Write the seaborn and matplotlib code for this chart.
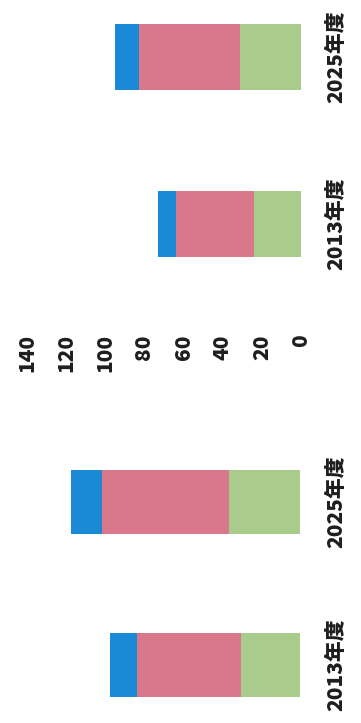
import matplotlib
matplotlib.use("Agg")
import matplotlib.pyplot as plt
import seaborn as sns
import pandas as pd
import numpy as np

sns.set_theme(style="white")
plt.rcParams['font.family'] = ['Noto Sans CJK JP', 'DejaVu Sans']

categories = ["2025年度", "2013年度"]
# right panel (top of the rotated picture)
top_green = [31, 24]
top_red = [52, 40]
top_blue = [12, 9]
# left panel (bottom of the rotated picture)
bot_green = [36, 30]
bot_red = [65, 53]
bot_blue = [16, 14]

value_ticks = [0, 20, 40, 60, 80, 100, 120, 140]

c_green = "#a9cc8d"
c_red = "#d9788a"
c_blue = "#1b8ad6"

W, H = 361, 723
fig = plt.figure(figsize=(W / 100, H / 100), dpi=100)

def draw(ax, green, red, blue, base_px):
    df = pd.DataFrame({"cat": categories,
                       "g": np.array(green),
                       "r": np.array(green) + np.array(red),
                       "b": np.array(green) + np.array(red) + np.array(blue)})
    for col, colr in (("b", c_blue), ("r", c_red), ("g", c_green)):
        sns.barplot(data=df, y="cat", x=col, orient="h", color=colr,
                    width=0.39, saturation=1, ax=ax, order=categories,
                    linewidth=0, edgecolor="none")
    ax.set_xlim(base_px / 1.957, (base_px - 318) / 1.957)
    ax.set_xlabel("")
    ax.set_ylabel("")
    for s in ax.spines.values():
        s.set_visible(False)
    ax.yaxis.tick_right()
    ax.tick_params(axis="y", length=0, pad=6)
    ax.tick_params(axis="x", length=0, pad=3)
    for t in ax.get_yticklabels():
        t.set_rotation(90)
        t.set_fontsize(15)
        t.set_fontweight("heavy")
        t.set_color("#1e1e1e")
        t.set_va("center")

# top axes: px 0..330
ax1 = fig.add_axes([0, 1 - 330 / H, 318 / W, 330 / H])
draw(ax1, top_green, top_red, top_blue, 301)
ax1.set_ylim((330 - 57) / 167, -57 / 167)
ax1.set_xticks(value_ticks)
ax1.set_xticklabels([str(v) for v in value_ticks], rotation=90,
                    fontsize=15, fontweight="heavy", color="#1e1e1e")

# bottom axes: px 390..723
ax2 = fig.add_axes([0, 0, 318 / W, (723 - 390) / H])
draw(ax2, bot_green, bot_red, bot_blue, 299.5)
ax2.set_ylim((723 - 502) / 163, (390 - 502) / 163)
ax2.set_xticks([])

fig.savefig("out.png", dpi=100)
